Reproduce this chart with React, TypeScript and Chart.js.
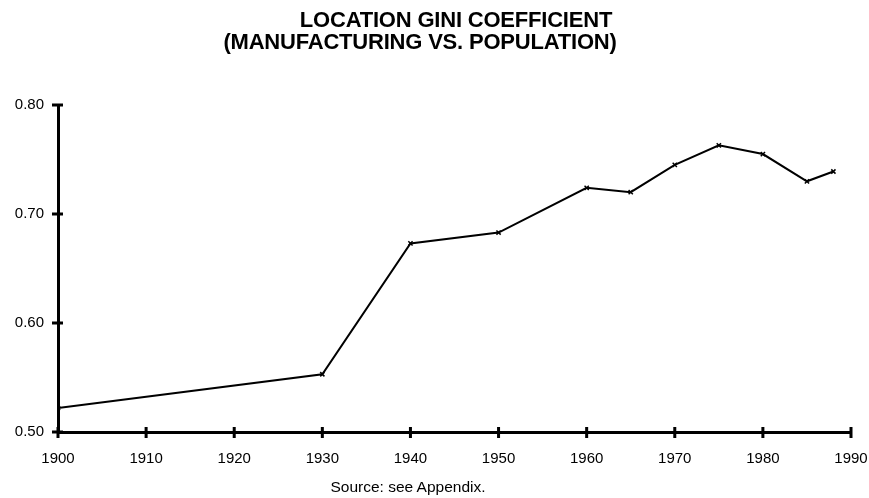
import React, { useEffect, useRef } from "react";
import { Chart, registerables } from "chart.js";

Chart.register(...registerables);

const years = [1900, 1930, 1940, 1950, 1960, 1965, 1970, 1975, 1980, 1985, 1988];
const gini = [0.522, 0.553, 0.673, 0.683, 0.724, 0.72, 0.745, 0.763, 0.755, 0.73, 0.739];
const titleLines = ["LOCATION GINI COEFFICIENT", "(MANUFACTURING VS. POPULATION)"];
const sourceText = "Source: see Appendix.";
const xMin = 1900;
const xMax = 1990;
const yMin = 0.5;
const yMax = 0.8;

const FONT = "'Liberation Sans', Arial, sans-serif";

const tickMarks = {
  id: "tickMarks",
  afterDraw(chart: any) {
    const ctx = chart.ctx;
    const xs = chart.scales.x;
    const ys = chart.scales.y;
    const ax = chart.chartArea.left;
    const ay = chart.chartArea.bottom;
    ctx.save();
    ctx.strokeStyle = "#000";
    ctx.lineWidth = 3;
    ctx.beginPath();
    ys.ticks.forEach((t: any) => {
      const py = ys.getPixelForValue(t.value);
      ctx.moveTo(ax - 6, py);
      ctx.lineTo(ax + 5, py);
    });
    xs.ticks.forEach((t: any) => {
      const px = xs.getPixelForValue(t.value);
      ctx.moveTo(px, ay - 5);
      ctx.lineTo(px, ay + 6);
    });
    ctx.stroke();
    ctx.restore();
  },
};

export default function App() {
  const ref = useRef<HTMLCanvasElement>(null);
  useEffect(() => {
    if (!ref.current) return;
    const chart = new Chart(ref.current, {
      type: "line",
      data: {
        datasets: [
          {
            data: years.map((y, i) => ({ x: y, y: gini[i] })),
            borderColor: "#000",
            borderWidth: 2,
            pointStyle: "crossRot",
            pointRadius: 3,
            pointBorderWidth: 1.5,
            pointBorderColor: "#000",
            pointBackgroundColor: "#000",
            tension: 0,
          },
        ],
      },
      options: {
        responsive: false,
        animation: false,
        layout: { padding: { top: 105, right: 18, left: 0, bottom: 0 } },
        plugins: { legend: { display: false }, tooltip: { enabled: false } },
        scales: {
          x: {
            type: "linear",
            min: xMin,
            max: xMax,
            grid: { display: false },
            border: { display: true, color: "#000", width: 3 },
            ticks: {
              stepSize: 10,
              color: "#000",
              padding: 10,
              maxRotation: 0,
              font: { family: FONT, size: 15 },
              callback: (v: any) => String(v),
            },
            afterFit: (s: any) => {
              s.height = 66;
              s.paddingRight = 0;
              s.paddingLeft = 0;
            },
          },
          y: {
            min: yMin,
            max: yMax,
            grid: { display: false },
            border: { display: true, color: "#000", width: 3 },
            ticks: {
              stepSize: 0.1,
              color: "#000",
              padding: 6,
              font: { family: FONT, size: 15 },
              callback: (v: any) => Number(v).toFixed(2),
            },
            afterFit: (s: any) => {
              s.width = 58;
              s.paddingTop = 0;
              s.paddingBottom = 0;
            },
          },
        },
      },
      plugins: [tickMarks],
    });
    return () => chart.destroy();
  }, []);

  const titleStyle: React.CSSProperties = {
    position: "absolute",
    transform: "translateX(-50%)",
    whiteSpace: "nowrap",
    fontFamily: FONT,
    fontWeight: "bold",
    fontSize: "22px",
    lineHeight: "22px",
    color: "#000",
    letterSpacing: "-0.2px",
  };

  return (
    <div
      style={{
        position: "fixed",
        left: 0,
        top: 0,
        width: 869,
        height: 498,
        background: "#fff",
        overflow: "hidden",
      }}
    >
      <canvas ref={ref} width={869} height={498} style={{ display: "block" }} />
      <div style={{ ...titleStyle, left: 456, top: 9 }}>{titleLines[0]}</div>
      <div style={{ ...titleStyle, left: 420, top: 31 }}>{titleLines[1]}</div>
      <div
        style={{
          position: "absolute",
          left: 408,
          top: 479,
          transform: "translateX(-50%)",
          whiteSpace: "nowrap",
          fontFamily: FONT,
          fontSize: "15.5px",
          lineHeight: "15px",
          color: "#000",
        }}
      >
        {sourceText}
      </div>
    </div>
  );
}
